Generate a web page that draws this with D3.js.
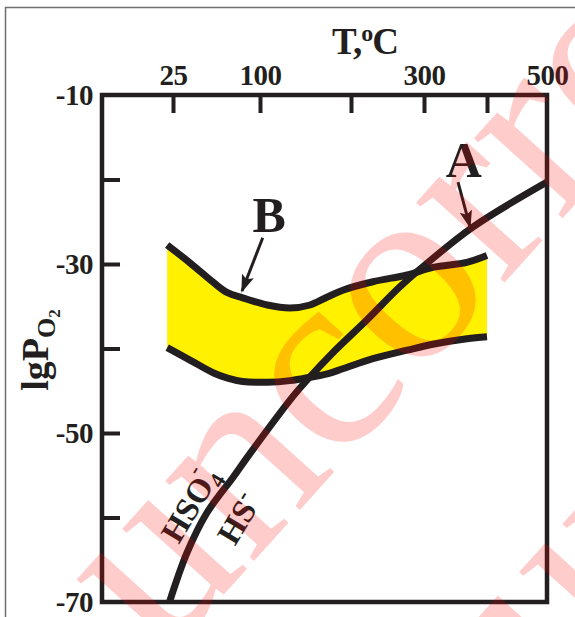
<!DOCTYPE html>
<html>
<head>
<meta charset="utf-8">
<script src="https://cdn.jsdelivr.net/npm/d3@7"></script>
<style>
  body { margin: 0; background: #fff; }
  text { font-family: "Liberation Serif", "Times New Roman", serif; font-weight: bold; fill: #231f20; }
</style>
</head>
<body>
<div id="chart"></div>
<script>
// temperature axis (top), deg C
const tempTicks = [25, 100, 200, 300, 400, 500];
const tempLabels = { 25: '25', 100: '100', 300: '300', 500: '500' };

// lgPO2 axis (left)
const lgTicks = [-10, -20, -30, -40, -50, -60, -70];
const lgLabels = [-10, -30, -50, -70];

// A: HSO4- / HS- boundary
const sulfT  = [22, 37, 54, 77, 91, 136, 152, 180, 222, 267, 305, 378, 500];
const sulfLg = [-70, -64.2, -59.5, -55.2, -52.5, -45.7, -43.7, -40.5, -36.6, -32.7, -29.9, -25.6, -20.3];

// B: yellow field, upper and lower edge
const bandT     = [20, 40, 60, 72, 85, 108, 133, 155, 174, 191, 230, 277, 314, 368, 400];
const bandUpper = [-27.75, -29.9, -32.2, -33.4, -34.0, -34.85, -35.2, -34.85, -33.9, -33.1, -32.1, -31.3, -30.4, -29.8, -29.0];
const bandLower = [-39.9, -41.4, -42.9, -43.5, -43.9, -44.0, -43.8, -43.4, -43.0, -42.4, -41.2, -40.2, -39.5, -38.85, -38.6];

// annotation arrows [fromT, fromLg, toT, toLg]
const arrowA = [354, -20.3, 373, -25.6];
const arrowB = [103, -26.9, 84.5, -33.2];

const ink = '#231f20';

const width = 575;
const height = 617;

let svg = d3.select('#chart').append('svg')
  .attr('width', width)
  .attr('height', height);

// the temperature scale of the figure is not linear, so it is pinned at its ticks
let xScale = d3.scaleLinear()
  .domain([-36, 25, 100, 200, 300, 400, 500])
  .range([102, 173, 260, 351, 424, 487, 547]);

let yScale = d3.scaleLinear()
  .domain([-10, -70])
  .range([95, 602]);

// outer frame of the figure
svg.append('path')
  .attr('d', 'M5.5,' + height + 'V7.5H' + width)
  .attr('fill', 'none')
  .attr('stroke', '#6d6e71')
  .attr('stroke-width', 1.5);

// field B fill
let band = bandT.map((t, i) => ({ t: t, hi: bandUpper[i], lo: bandLower[i] }));
let curve = d3.curveCatmullRom.alpha(0.5);

svg.append('path')
  .datum(band)
  .attr('fill', '#fff100')
  .attr('d', d3.area()
    .x(d => xScale(d.t))
    .y0(d => yScale(d.lo))
    .y1(d => yScale(d.hi))
    .curve(curve));

['hi', 'lo'].map((key) => {
  svg.append('path')
    .datum(band)
    .attr('fill', 'none')
    .attr('stroke', ink)
    .attr('stroke-width', 7)
    .attr('d', d3.line()
      .x(d => xScale(d.t))
      .y(d => yScale(d[key]))
      .curve(curve));
});

// boundary A
svg.append('clipPath').attr('id', 'plot-clip')
  .append('rect')
    .attr('x', xScale(-36))
    .attr('y', yScale(-10))
    .attr('width', xScale(500) - xScale(-36))
    .attr('height', yScale(-70) - yScale(-10));

svg.append('path')
  .datum(sulfT.map((t, i) => ({ t: t, lg: sulfLg[i] })))
  .attr('clip-path', 'url(#plot-clip)')
  .attr('fill', 'none')
  .attr('stroke', ink)
  .attr('stroke-width', 7)
  .attr('d', d3.line()
    .x(d => xScale(d.t))
    .y(d => yScale(d.lg))
    .curve(curve));

// axes
let topAxis = svg.append('g')
  .attr('transform', 'translate(0,' + yScale(-10) + ')')
  .call(d3.axisTop(xScale)
    .tickValues(tempTicks)
    .tickSizeInner(-18)
    .tickSizeOuter(0)
    .tickPadding(10)
    .tickFormat(d => tempLabels[d] || ''));

let leftAxis = svg.append('g')
  .attr('transform', 'translate(' + xScale(-36) + ',0)')
  .call(d3.axisLeft(yScale)
    .tickValues(lgTicks)
    .tickSizeInner(-18)
    .tickSizeOuter(0)
    .tickPadding(9)
    .tickFormat(d => lgLabels.includes(d) ? String(d) : ''));

[topAxis, leftAxis].map((g) => {
  g.attr('font-family', null).attr('font-size', null);
  g.select('.domain').remove();
  g.selectAll('.tick line').attr('stroke', ink).attr('stroke-width', 4);
  g.selectAll('.tick text')
    .attr('fill', ink)
    .style('font-size', '29px')
    .style('letter-spacing', '-0.5px');
});
topAxis.selectAll('.tick').filter(d => d === 500).select('line').remove();
leftAxis.selectAll('.tick').filter(d => d === -10 || d === -70).select('line').remove();

svg.append('rect')
  .attr('x', xScale(-36))
  .attr('y', yScale(-10))
  .attr('width', xScale(500) - xScale(-36))
  .attr('height', yScale(-70) - yScale(-10))
  .attr('fill', 'none')
  .attr('stroke', ink)
  .attr('stroke-width', 4.5);

// axis titles
let title = svg.append('text')
  .attr('x', 365)
  .attr('y', 54)
  .attr('text-anchor', 'middle')
  .style('font-size', '37px')
  .style('letter-spacing', '-1px');
title.append('tspan').text('T,');
title.append('tspan').attr('dy', -13).style('font-size', '24px').text('o');
title.append('tspan').attr('dy', 13).text('C');

let ylab = svg.append('text')
  .attr('transform', 'translate(48,350) rotate(-90)')
  .attr('text-anchor', 'middle')
  .style('font-size', '38px');
ylab.append('tspan').text('lgP');
ylab.append('tspan').attr('dy', 7).style('font-size', '26px').text('O');
ylab.append('tspan').attr('dy', 5).style('font-size', '17px').text('2');

// arrows A and B
svg.append('defs').append('marker')
  .attr('id', 'head')
  .attr('viewBox', '0 0 10 10')
  .attr('refX', 9)
  .attr('refY', 5)
  .attr('markerWidth', 6)
  .attr('markerHeight', 6)
  .attr('markerUnits', 'strokeWidth')
  .attr('orient', 'auto')
  .append('path')
    .attr('d', 'M0,1.5L10,5L0,8.5L2,5Z')
    .attr('fill', ink);

[arrowA, arrowB].map((a) => {
  svg.append('line')
    .attr('x1', xScale(a[0]))
    .attr('y1', yScale(a[1]))
    .attr('x2', xScale(a[2]))
    .attr('y2', yScale(a[3]))
    .attr('stroke', ink)
    .attr('stroke-width', 3)
    .attr('marker-end', 'url(#head)');
});

svg.append('text')
  .attr('x', xScale(363))
  .attr('y', yScale(-19.7))
  .attr('text-anchor', 'middle')
  .style('font-size', '50px')
  .text('A');

svg.append('text')
  .attr('x', xScale(110))
  .attr('y', yScale(-26.2))
  .attr('text-anchor', 'middle')
  .style('font-size', '50px')
  .text('B');

// species labels along boundary A
let along = svg.append('g')
  .attr('transform', 'translate(' + xScale(37) + ',' + yScale(-64.2) + ') rotate(-59)');

let hso4 = along.append('text')
  .attr('x', 43)
  .attr('y', -11)
  .attr('text-anchor', 'middle')
  .style('font-size', '33px');
hso4.append('tspan').text('HSO');
hso4.append('tspan').attr('dy', 7).style('font-size', '22px').text('4');
hso4.append('tspan').attr('dx', -12).attr('dy', -26).style('font-size', '22px').text('-');

let hs = along.append('text')
  .attr('x', 56)
  .attr('y', 38)
  .attr('text-anchor', 'middle')
  .style('font-size', '33px');
hs.append('tspan').text('HS');
hs.append('tspan').attr('dy', -13).style('font-size', '24px').text('-');

// proof watermark
[[163, 662], [560, 705]].map((p) => {
  svg.append('text')
    .attr('transform', 'translate(' + p[0] + ',' + p[1] + ') rotate(-48)')
    .style('font-size', '260px')
    .style('font-weight', 'normal')
    .style('fill', 'rgba(255,0,0,0.2)')
    .text('uncorrected');
});
</script>
</body>
</html>
